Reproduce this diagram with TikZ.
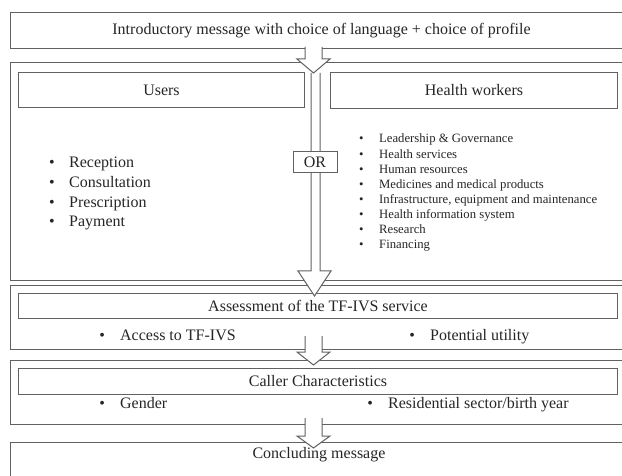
\documentclass[tikz,border=0pt]{standalone}
\usepackage{fontspec}
\setmainfont{Liberation Serif}
\newcommand\bul[1]{\makebox[#1][l]{\textbullet}}
\begin{document}
\begin{tikzpicture}[x=1pt,y=-1pt,
  box/.style={draw=black!62, line width=1pt, fill=white, inner sep=0pt, anchor=north west,
              font=\fontsize{16}{19}\selectfont, text=black!85},
  txt/.style={font=\fontsize{16}{19}\selectfont, text=black!85, inner sep=0pt, anchor=base west},
  small/.style={font=\fontsize{12.7}{15}\selectfont, text=black!85, inner sep=0pt, anchor=base west},
  blk/.style={draw=black!62, line width=1pt, fill=white, line join=miter}]
\useasboundingbox (0,0) rectangle (622,476);

% outer boxes
\node[box, minimum width=622pt, minimum height=36pt] (intro) at (10,12)
  {Introductory message with choice of language + choice of profile};
\node[box, minimum width=622pt, minimum height=218pt] (profile) at (10,62) {};
\node[box, minimum width=622pt, minimum height=64pt] (assessbox) at (10,285) {};
\node[box, minimum width=622pt, minimum height=64pt] (callerbox) at (10,360) {};
\node[box, minimum width=622pt, minimum height=48pt, text height=11pt, text depth=0pt] (concl) at (10,442) {};
\node[inner sep=0pt, anchor=base, font=\fontsize{16}{19}\selectfont, text=black!85] (concltxt) at (319,458) {Concluding message};

% inner boxes
\node[box, minimum width=286pt, minimum height=35pt] (users) at (18,72) {Users};
\node[box, minimum width=287pt, minimum height=36pt] (hw) at (330,72) {Health workers};
\node[box, minimum width=599pt, minimum height=25pt] (assess) at (18,293) {Assessment of the TF-IVS service};
\node[box, minimum width=599pt, minimum height=26pt] (caller) at (18,368) {Caller Characteristics};

% users list
\foreach \t [count=\i] in {Reception, Consultation, Prescription, Payment}
  \node[txt] (u\i) at (49,{168+(\i-1)*19.6}) {\bul{20pt}\t};

% health workers list
\foreach \t [count=\i] in {Leadership \& Governance, Health services, Human resources,
  Medicines and medical products, {Infrastructure, equipment and maintenance},
  Health information system, Research, Financing}
  \node[small] (h\i) at (358.8,{143+(\i-1)*15.1}) {\bul{20.2pt}\t};

% assessment bullets
\node[txt] (acc) at (99.2,341) {\bul{20.8pt}Access to TF-IVS};
\node[txt] (pot) at (409.2,341) {\bul{20.8pt}Potential utility};

% caller bullets
\node[txt] (gen) at (99.2,408) {\bul{20.8pt}Gender};
\node[txt] (res) at (367.2,408) {\bul{20.8pt}Residential sector/birth year};

% long arrow
\draw[blk] (311,73) -- (311,271) -- (298,271) -- (314.5,296) -- (331,271) -- (320,271) -- (320,73);
\node[box, anchor=center, minimum width=44pt, minimum height=21pt] (or) at (315,162.5) {OR};

% block arrows
\draw[blk] (305,47) -- (305,59) -- (297,59) -- (313.5,73) -- (330,59) -- (322,59) -- (322,47);
\draw[blk] (305,336) -- (305,352) -- (297,352) -- (313.5,365) -- (330,352) -- (322,352) -- (322,336);
\draw[blk] (305,418) -- (305,436) -- (297,436) -- (313.5,448) -- (330,436) -- (322,436) -- (322,418);
\end{tikzpicture}
\end{document}
